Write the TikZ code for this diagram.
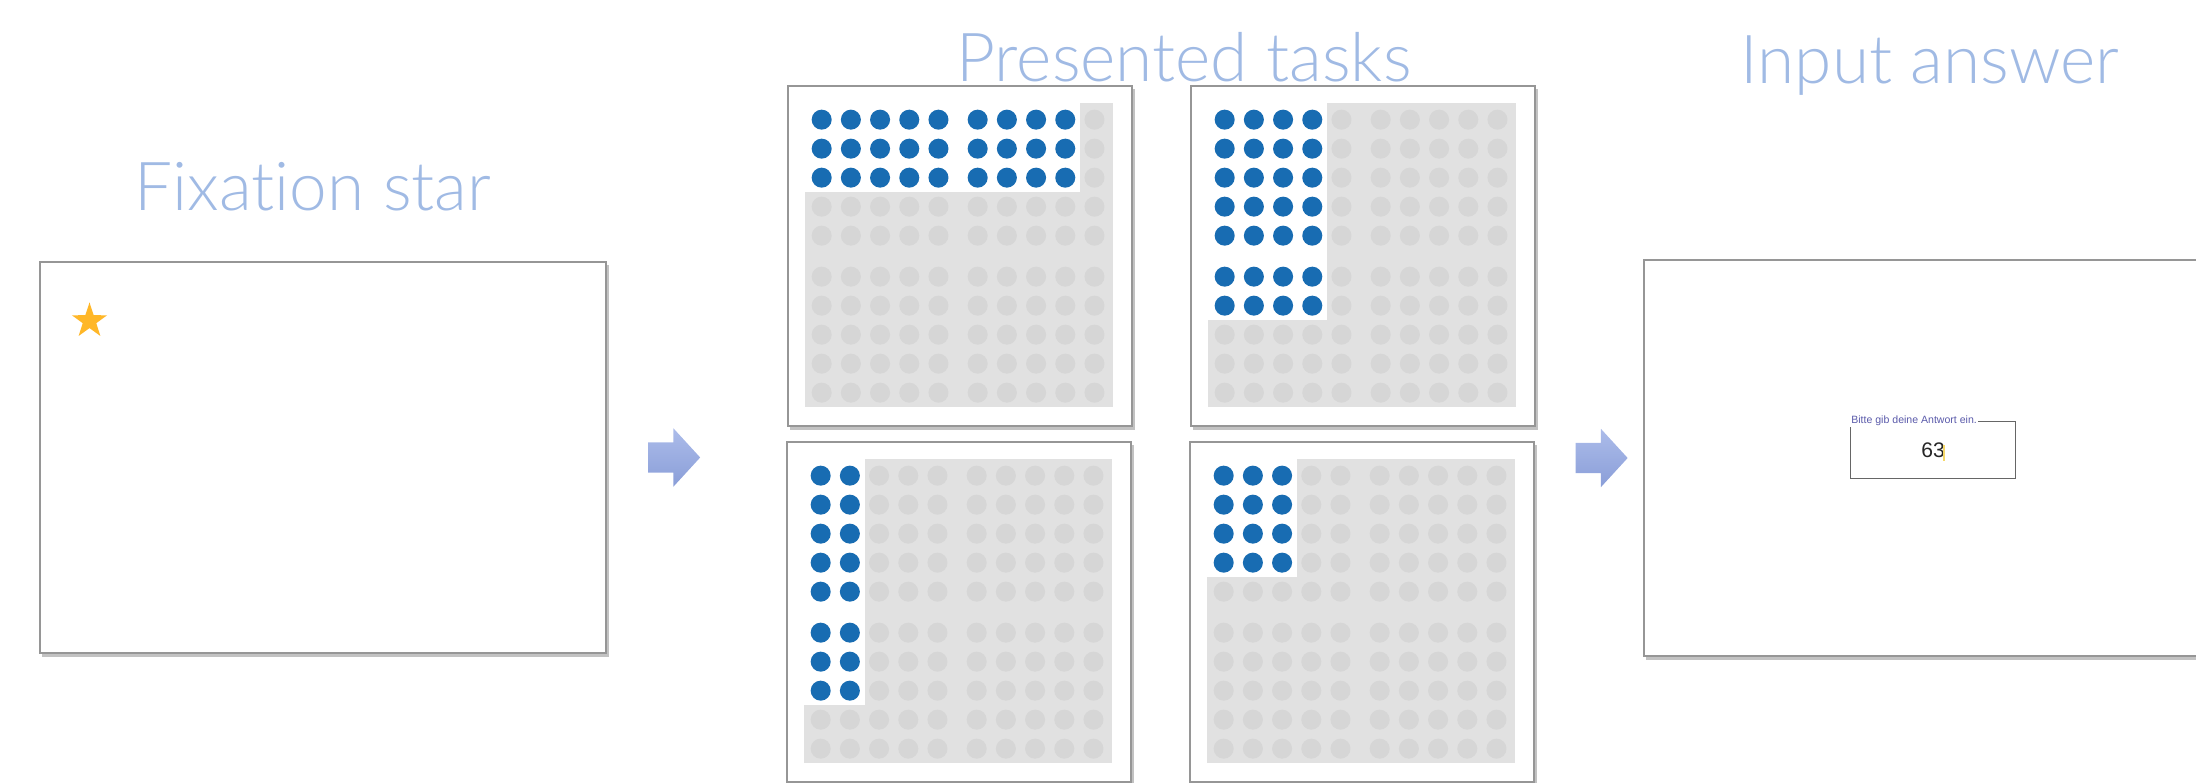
\documentclass[tikz,border=0pt]{standalone}
\usepackage{fontspec}
\setmainfont{Liberation Sans}
\IfFontExistsTF{Lato Light}{\newfontfamily\titlefont{Lato Light}[Ligatures=NoCommon]}{\newfontfamily\titlefont{Lato}[Ligatures=NoCommon]}
\usepackage{xcolor}
\usepackage{tikz}
\usetikzlibrary{shapes.geometric, shapes.arrows, shadows, positioning}

\definecolor{titleblue}{RGB}{160,186,228}
\definecolor{dotblue}{RGB}{24,108,178}
\definecolor{dotgray}{RGB}{214,214,214}
\definecolor{gridgray}{RGB}{225,225,225}
\definecolor{arrowtop}{RGB}{172,188,234}
\definecolor{arrowbot}{RGB}{138,158,216}
\definecolor{starorange}{RGB}{255,183,40}
\definecolor{framegray}{RGB}{150,150,150}
\definecolor{labelpurple}{RGB}{90,90,170}
\definecolor{cursoryellow}{RGB}{245,216,106}

\tikzset{
    screen/.style={
        rectangle,
        draw=framegray,
        line width=0.7pt,
        fill=white,
        inner sep=0pt,
        drop shadow={shadow xshift=0.025cm, shadow yshift=-0.035cm, opacity=0.4, fill=black!60}
    },
    taskscreen/.style={
        screen,
        minimum width=3.44cm,
        minimum height=3.40cm
    },
    heading/.style={
        font=\titlefont\fontsize{19.2}{23}\selectfont,
        text=titleblue,
        inner sep=0pt,
        anchor=base
    },
    flowarrow/.style={
        single arrow,
        single arrow head extend=0.14cm,
        single arrow tip angle=95,
        minimum height=0.52cm,
        inner xsep=0pt,
        inner ysep=0.145cm,
        top color=arrowtop,
        bottom color=arrowbot,
        draw=none
    },
    fixstar/.style={
        star,
        star points=5,
        star point ratio=2.6,
        minimum size=0.37cm,
        inner sep=0pt,
        fill=starorange
    },
    answerbox/.style={
        rectangle,
        draw=gray!80!black,
        line width=0.5pt,
        minimum width=1.65cm,
        minimum height=0.57cm,
        font=\fontsize{6}{7}\selectfont,
        text=black!85
    },
    boxlabel/.style={
        fill=white,
        inner sep=0.3pt,
        text=labelpurple,
        font=\fontsize{3}{3.5}\selectfont
    },
    cursorline/.style={
        draw=cursoryellow,
        line width=0.3pt
    }
}

% dot grid of one task screen: #1 screen, #2 blue columns, #3 blue rows
\newcommand{\taskgrid}[3]{%
    \begin{scope}[shift={(#1.north west)}, shift={(18,18)}]
        \pgfmathsetmacro{\cutx}{17+29.2*(#2-1)+((#2-1)>4)*10+15}
        \pgfmathsetmacro{\cuty}{17+29*(#3-1)+((#3-1)>4)*12+14}
        \fill[gridgray] (0,0) rectangle (308,304);
        \fill[white] (0,0) rectangle (\cutx,\cuty);
        \foreach \col in {0,...,9} {
            \foreach \row in {0,...,9} {
                \pgfmathsetmacro{\dx}{17+29.2*\col+(\col>4)*10}
                \pgfmathsetmacro{\dy}{17+29*\row+(\row>4)*12}
                \pgfmathtruncatemacro{\isblue}{(\col<#2)&&(\row<#3)}
                \ifnum\isblue=1
                    \fill[dotblue] (\dx,\dy) circle[radius=0.1cm];
                \else
                    \fill[dotgray] (\dx,\dy) circle[radius=0.1cm];
                \fi
            }
        }
    \end{scope}%
}

\begin{document}
\begin{tikzpicture}[x=0.01cm, y=-0.01cm]
    \useasboundingbox (0,0) rectangle (2196,783);

    % Fixation screen
    \node (fix) [screen, minimum width=5.66cm, minimum height=3.91cm] at (323,457.5) {};
    \node (star) [fixstar] at (89.5,321) {};
    \node (fixtitle) [heading] at (313,210.7) {Fixation star};

    % Task screens
    \node (taska) [taskscreen] at (960,256) {};
    \node (taskb) [taskscreen] at (1363,256) {};
    \node (taskc) [taskscreen] at (959,612) {};
    \node (taskd) [taskscreen] at (1362,612) {};
    \taskgrid{taska}{9}{3}
    \taskgrid{taskb}{4}{7}
    \taskgrid{taskc}{2}{8}
    \taskgrid{taskd}{3}{4}
    \node (tasktitle) [heading] at (1184,81.7) {Presented tasks};

    % Input screen
    \node (inp) [screen, minimum width=6.1cm, minimum height=3.96cm] at (1949,458) {};
    \node (answer) [answerbox] at (1933,450) {63};
    \node (answerlabel) [boxlabel, anchor=west] at (answer.north west) {Bitte gib deine Antwort ein.};
    \draw [cursorline] (1944,445) -- (1944,461);
    \node (inptitle) [heading] at (1930,83.3) {Input answer};

    % Arrows
    \node (arra) [flowarrow, right=0.4cm of fix] {};
    \node (arrb) [flowarrow, left=0.14cm of inp] {};

\end{tikzpicture}
\end{document}
